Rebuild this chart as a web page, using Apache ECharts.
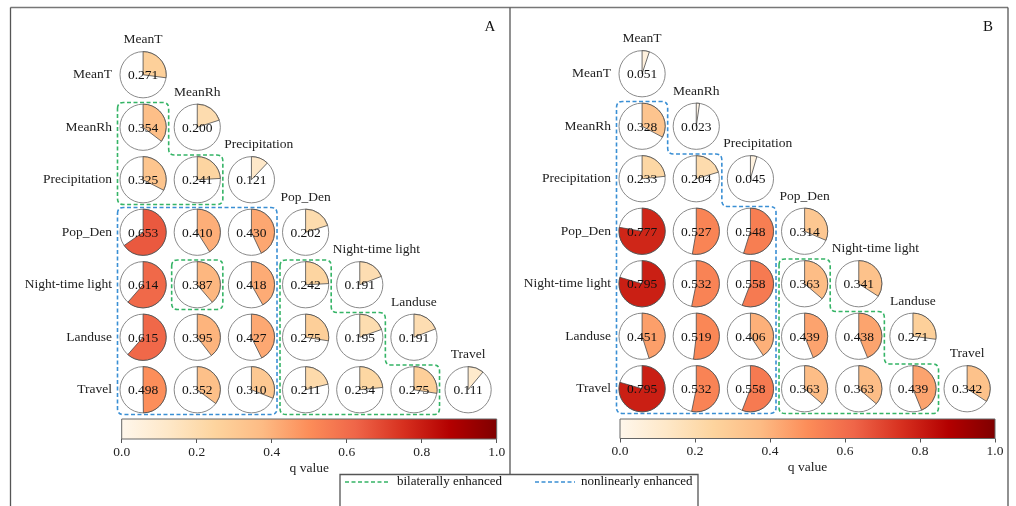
<!DOCTYPE html>
<html><head><meta charset="utf-8">
<script src="https://cdn.jsdelivr.net/npm/echarts@6/dist/echarts.min.js"></script>
<style>html,body{margin:0;padding:0;background:#fff}#c{width:1016px;height:506px}</style>
</head><body><div id="c"></div>
<script>
// ---------- data ----------
const variables = ['MeanT', 'MeanRh', 'Precipitation', 'Pop_Den', 'Night-time light', 'Landuse', 'Travel'];
// lower-triangular q values, row by row (panel A)
const qA = [
  [0.271],
  [0.354, 0.200],
  [0.325, 0.241, 0.121],
  [0.653, 0.410, 0.430, 0.202],
  [0.614, 0.387, 0.418, 0.242, 0.191],
  [0.615, 0.395, 0.427, 0.275, 0.195, 0.191],
  [0.498, 0.352, 0.310, 0.211, 0.234, 0.275, 0.111]
];
// panel B
const qB = [
  [0.051],
  [0.328, 0.023],
  [0.233, 0.204, 0.045],
  [0.777, 0.527, 0.548, 0.314],
  [0.795, 0.532, 0.558, 0.363, 0.341],
  [0.451, 0.519, 0.406, 0.439, 0.438, 0.271],
  [0.795, 0.532, 0.558, 0.363, 0.363, 0.439, 0.342]
];
// enhancement groups: [first row, first column, last column of each row]
const bilateralA = [[1, 0, [0, 1]], [4, 1, [1]], [4, 3, [3, 4, 5]]];
const nonlinearA = [[3, 0, [2, 2, 2, 2]]];
const bilateralB = [[4, 3, [3, 4, 5]]];
const nonlinearB = [[1, 0, [0, 1, 2, 2, 2, 2]]];
const panelLetters = ['A', 'B'];
const colorbarTicks = [0.0, 0.2, 0.4, 0.6, 0.8, 1.0];
const colorbarName = 'q value';
const legendLabels = ['bilaterally enhanced', 'nonlinearly enhanced'];
const orrd = ['#fff7ec', '#fee8c8', '#fdd49e', '#fdbb84', '#fc8d59', '#ef6548', '#d7301f', '#b30000', '#7f0000'];

// ---------- helpers ----------
const SERIF = '"Liberation Serif", "Times New Roman", serif';
const GREEN = '#35b466', BLUE = '#3a8fd4';
function hex2rgb(h) { return [1, 3, 5].map(i => parseInt(h.substr(i, 2), 16)); }
function cmap(q) {
  const t = Math.max(0, Math.min(1, q)) * (orrd.length - 1);
  const i = Math.min(Math.floor(t), orrd.length - 2), f = t - i;
  const a = hex2rgb(orrd[i]), b = hex2rgb(orrd[i + 1]);
  return 'rgb(' + a.map((v, k) => Math.round(v + (b[k] - v) * f)).join(',') + ')';
}
const mctx = document.createElement('canvas').getContext('2d');
function textW(t, font) { mctx.font = font; return mctx.measureText(t).width; }
function cells(q) {
  const out = [];
  q.forEach((row, r) => row.forEach((v, c) => out.push([c, r, v])));
  return out;
}
function roundedPath(pts, rad) {
  const n = pts.length; let d = '';
  const f = v => v.toFixed(2);
  for (let i = 0; i < n; i++) {
    const p = pts[i], a = pts[(i - 1 + n) % n], b = pts[(i + 1) % n];
    const la = Math.hypot(a[0] - p[0], a[1] - p[1]), lb = Math.hypot(b[0] - p[0], b[1] - p[1]);
    const r = Math.min(rad, la / 2, lb / 2);
    const p1 = [p[0] + (a[0] - p[0]) / la * r, p[1] + (a[1] - p[1]) / la * r];
    const p2 = [p[0] + (b[0] - p[0]) / lb * r, p[1] + (b[1] - p[1]) / lb * r];
    d += (i === 0 ? 'M' : 'L') + f(p1[0]) + ' ' + f(p1[1]) + ' Q' + f(p[0]) + ' ' + f(p[1]) + ' ' + f(p2[0]) + ' ' + f(p2[1]) + ' ';
  }
  return d + 'Z';
}
function regionPts(api, reg, d) {
  const r0 = reg[0], c0 = reg[1], ends = reg[2];
  const s = api.size([1, 1]); const hx = s[0] / 2, hy = s[1] / 2;
  const X = c => api.coord([c, r0])[0];
  const Y = r => api.coord([c0, r])[1];
  const L = X(c0) - hx + d;
  const top = Y(r0) - hy + d;
  const pts = [[L, top]];
  let prevR = X(ends[0]) + hx - d;
  pts.push([prevR, top]);
  for (let k = 1; k < ends.length; k++) {
    if (ends[k] !== ends[k - 1]) {
      const yb = Y(r0 + k) - hy + d;
      const nr = X(ends[k]) + hx - d;
      pts.push([prevR, yb]); pts.push([nr, yb]);
      prevR = nr;
    }
  }
  const B = Y(r0 + ends.length - 1) + hy - d;
  pts.push([prevR, B]); pts.push([L, B]);
  return pts;
}

// ---------- series builders ----------
function cellSeries(q, gi) {
  return {
    type: 'custom', xAxisIndex: gi, yAxisIndex: gi, data: cells(q), z: 3,
    renderItem: function (params, api) {
      const v = api.value(2);
      const p = api.coord([api.value(0), api.value(1)]);
      const s = api.size([1, 1]);
      const R = Math.min(s[0], s[1]) * 0.44;
      const st = -Math.PI / 2;
      return {
        type: 'group', children: [
          { type: 'circle', shape: { cx: p[0], cy: p[1], r: R }, style: { fill: '#fff', stroke: '#8a8a8a', lineWidth: 1 } },
          { type: 'sector', shape: { cx: p[0], cy: p[1], r0: 0, r: R, startAngle: st, endAngle: st + 2 * Math.PI * v, clockwise: true },
            style: { fill: cmap(v), stroke: '#4a4a4a', lineWidth: 0.8 } },
          { type: 'text', style: { text: v.toFixed(3), x: p[0], y: p[1] + 1, fill: '#111', font: '13.5px ' + SERIF,
            align: 'center', verticalAlign: 'middle', textAlign: 'center', textVerticalAlign: 'middle' } }
        ]
      };
    }
  };
}
function colLabelSeries(gi) {
  return {
    type: 'custom', xAxisIndex: gi, yAxisIndex: gi, z: 3,
    data: variables.map((v, i) => [i, i]),
    renderItem: function (params, api) {
      const i = params.dataIndex;
      const p = api.coord([i, i]);
      const s = api.size([1, 1]);
      const R = Math.min(s[0], s[1]) * 0.44;
      const font = '13.5px ' + SERIF;
      const w = textW(variables[i], font);
      const cx = Math.max(p[0], p[0] - R - 4 + w / 2);
      return { type: 'text', style: { text: variables[i], x: cx, y: p[1] - s[1] * 0.665, fill: '#222', font: font,
        align: 'center', verticalAlign: 'middle', textAlign: 'center', textVerticalAlign: 'middle' } };
    }
  };
}
function regionSeries(regs, color, gi) {
  return {
    type: 'custom', xAxisIndex: gi, yAxisIndex: gi, z: 2,
    data: regs.map(r => [r[1], r[0]]),
    renderItem: function (params, api) {
      const pts = regionPts(api, regs[params.dataIndex], 1.5);
      return { type: 'path', shape: { pathData: roundedPath(pts, 6) },
        style: { fill: 'none', stroke: color, lineWidth: 1.6, lineDash: [4, 2.5] } };
    }
  };
}
function colorbarSeries(gi) {
  return {
    type: 'custom', xAxisIndex: gi, yAxisIndex: gi, z: 3,
    data: [[colorbarTicks[0], 0, colorbarTicks[colorbarTicks.length - 1], 1]],
    renderItem: function (params, api) {
      const p0 = api.coord([api.value(0), api.value(1)]);
      const p1 = api.coord([api.value(2), api.value(3)]);
      const stops = orrd.map((c, i) => ({ offset: i / (orrd.length - 1), color: c }));
      return { type: 'rect', shape: { x: p0[0], y: p1[1], width: p1[0] - p0[0], height: p0[1] - p1[1] },
        style: { fill: new echarts.graphic.LinearGradient(0, 0, 1, 0, stops), stroke: '#666', lineWidth: 1 } };
    }
  };
}

// ---------- layout ----------
const matGrids = [
  { left: 116, top: 48.5, width: 379.2, height: 367.5 },
  { left: 615, top: 47.5, width: 379.2, height: 367.5 }
];
const cbGrids = [
  { left: 121.7, top: 419, width: 375, height: 20 },
  { left: 620, top: 419, width: 375, height: 19.5 }
];
const grids = matGrids.concat(cbGrids);
const xAxes = [], yAxes = [];
[0, 1].forEach(gi => {
  xAxes.push({ gridIndex: gi, type: 'category', data: variables, show: false });
  yAxes.push({ gridIndex: gi, type: 'category', data: variables, inverse: true,
    axisLine: { show: false }, axisTick: { show: false }, splitLine: { show: false },
    axisLabel: { margin: 4, color: '#222', fontFamily: SERIF, fontSize: 13.5 } });
});
[2, 3].forEach(gi => {
  xAxes.push({ gridIndex: gi, type: 'value', min: 0, max: 1, interval: 0.2,
    axisLine: { show: false }, splitLine: { show: false },
    axisTick: { show: true, inside: false, length: 4, lineStyle: { color: '#555' } },
    axisLabel: { margin: 6, color: '#222', fontFamily: SERIF, fontSize: 13.5, formatter: v => v.toFixed(1) },
    name: colorbarName, nameLocation: 'middle', nameGap: 22,
    nameTextStyle: { color: '#222', fontFamily: SERIF, fontSize: 13.5 } });
  yAxes.push({ gridIndex: gi, type: 'value', min: 0, max: 1, show: false });
});

const series = [
  regionSeries(bilateralA, GREEN, 0), regionSeries(nonlinearA, BLUE, 0),
  regionSeries(bilateralB, GREEN, 1), regionSeries(nonlinearB, BLUE, 1),
  cellSeries(qA, 0), cellSeries(qB, 1),
  colLabelSeries(0), colLabelSeries(1),
  colorbarSeries(2), colorbarSeries(3)
];

const frame = { stroke: '#555', lineWidth: 1.3 };
const graphic = [
  { type: 'line', shape: { x1: 10.5, y1: 7.5, x2: 1008, y2: 7.5 }, style: { stroke: '#777', lineWidth: 1.3 } },
  { type: 'line', shape: { x1: 10.5, y1: 7.5, x2: 10.5, y2: 506 }, style: frame },
  { type: 'line', shape: { x1: 1008, y1: 7.5, x2: 1008, y2: 506 }, style: frame },
  { type: 'line', shape: { x1: 510, y1: 7.5, x2: 510, y2: 474 }, style: frame },
  { type: 'rect', shape: { x: 340, y: 474.5, width: 358, height: 40 }, style: { fill: 'none', stroke: '#555', lineWidth: 1.3 } },
  { type: 'text', x: 490, y: 27, style: { text: panelLetters[0], font: '15px ' + SERIF, fill: '#111', align: 'center', verticalAlign: 'middle' } },
  { type: 'text', x: 988, y: 27, style: { text: panelLetters[1], font: '15px ' + SERIF, fill: '#111', align: 'center', verticalAlign: 'middle' } },
  { type: 'line', shape: { x1: 345, y1: 482, x2: 390, y2: 482 }, style: { stroke: GREEN, lineWidth: 1.6, lineDash: [4, 2.5] } },
  { type: 'text', x: 397, y: 482, style: { text: legendLabels[0], font: '13px ' + SERIF, fill: '#111', align: 'left', verticalAlign: 'middle' } },
  { type: 'line', shape: { x1: 535, y1: 482, x2: 575, y2: 482 }, style: { stroke: BLUE, lineWidth: 1.6, lineDash: [4, 2.5] } },
  { type: 'text', x: 581, y: 482, style: { text: legendLabels[1], font: '13px ' + SERIF, fill: '#111', align: 'left', verticalAlign: 'middle' } }
];

const chart = echarts.init(document.getElementById('c'), null, { renderer: 'canvas' });
chart.setOption({
  animation: false,
  backgroundColor: '#fff',
  grid: grids,
  xAxis: xAxes,
  yAxis: yAxes,
  series: series,
  graphic: graphic
});
</script>
</body></html>
